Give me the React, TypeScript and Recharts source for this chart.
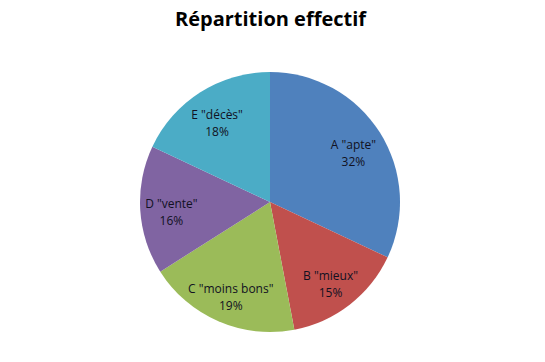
import React from 'react';
import { PieChart, Pie, Cell } from 'recharts';

const categories = ['A "apte"', 'B "mieux"', 'C "moins bons"', 'D "vente"', 'E "décès"'];
const values = [32, 15, 19, 16, 18];
const colors = ['#4F81BD', '#C0504D', '#9BBB59', '#8064A2', '#4BACC6'];

const data = categories.map((name, i) => ({ name, value: values[i] }));
const RAD = Math.PI / 180;

const renderLabel = (props: any) => {
  const { cx, cy, midAngle, outerRadius, index, percent } = props;
  const r = outerRadius * 0.76;
  const x = cx + r * Math.cos(-midAngle * RAD);
  const y = cy + r * Math.sin(-midAngle * RAD);
  return (
    <text
      x={x}
      y={y}
      textAnchor="middle"
      fill="#111122"
      fontFamily="'Open Sans', sans-serif"
      fontSize={12}
    >
      <tspan x={x} dy={0}>{categories[index]}</tspan>
      <tspan x={x} dy={17}>{Math.round(percent * 100)}%</tspan>
    </text>
  );
};

export default function App() {
  return (
    <div style={{ position: 'absolute', left: 0, top: 0, width: 545, height: 362, background: '#fff' }}>
      <div
        style={{
          position: 'absolute',
          left: 0,
          top: 5,
          width: 541,
          textAlign: 'center',
          fontFamily: "'Open Sans', sans-serif",
          fontWeight: 'bold',
          fontSize: 20,
          color: '#000',
        }}
      >
        Répartition effectif
      </div>
      <PieChart width={545} height={362} margin={{ top: 0, right: 0, bottom: 0, left: 0 }}>
        <Pie
          data={data}
          dataKey="value"
          nameKey="name"
          cx={270}
          cy={202}
          outerRadius={130}
          startAngle={90}
          endAngle={-270}
          stroke="none"
          label={renderLabel}
          labelLine={false}
          isAnimationActive={false}
        >
          {data.map((d, i) => (
            <Cell key={d.name} fill={colors[i]} />
          ))}
        </Pie>
      </PieChart>
    </div>
  );
}
